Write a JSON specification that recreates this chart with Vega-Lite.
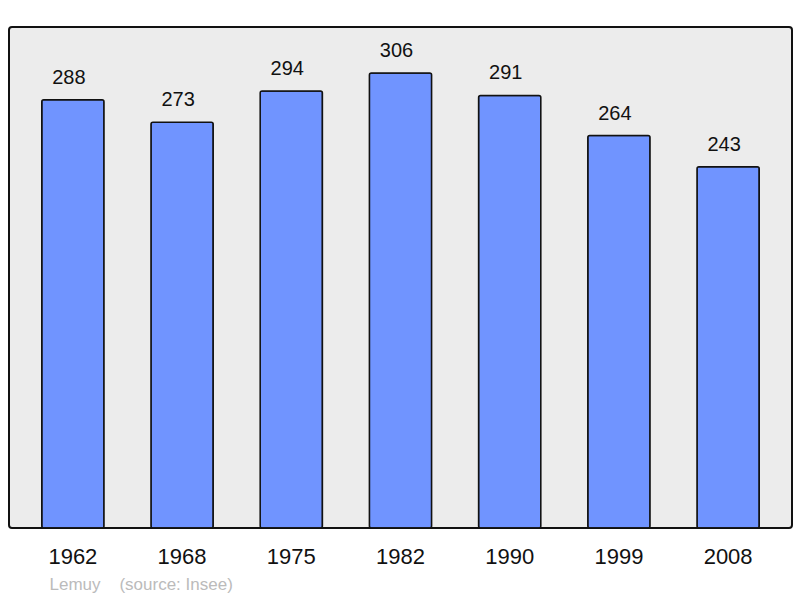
{
  "$schema": "https://vega.github.io/schema/vega-lite/v6.json",
  "width": 783,
  "height": 501,
  "autosize": {"type": "none"},
  "padding": {"left": 9, "top": 27, "right": 8, "bottom": 70},
  "background": "white",
  "config": {
    "view": {"fill": "#ececec", "stroke": "#111111", "strokeWidth": 2, "cornerRadius": 3},
    "font": "Liberation Sans"
  },
  "data": {
    "values": [
      {"year": "1962", "pop": 288},
      {"year": "1968", "pop": 273},
      {"year": "1975", "pop": 294},
      {"year": "1982", "pop": 306},
      {"year": "1990", "pop": 291},
      {"year": "1999", "pop": 264},
      {"year": "2008", "pop": 243}
    ]
  },
  "encoding": {
    "x": {
      "field": "year",
      "type": "ordinal",
      "scale": {"paddingInner": 0.43, "paddingOuter": 0.3},
      "axis": {
        "labelAngle": 0,
        "labelFontSize": 22,
        "labelColor": "#111111",
        "labelPadding": 18,
        "ticks": false,
        "domain": false,
        "title": "Lemuy\u00a0\u00a0\u00a0\u00a0(source: Insee)",
        "titleFontSize": 17,
        "titleFontWeight": "normal",
        "titleColor": "#bbbbbb",
        "titleAnchor": "start",
        "titleAlign": "left",
        "titleBaseline": "middle",
        "titleX": 40,
        "titleY": 56
      }
    },
    "y": {
      "field": "pop",
      "type": "quantitative",
      "scale": {"domain": [0, 337], "nice": false},
      "axis": null
    }
  },
  "layer": [
    {
      "mark": {"type": "bar", "fill": "#7094ff", "stroke": "#111111", "strokeWidth": 1.5, "cornerRadius": 2}
    },
    {
      "mark": {"type": "text", "dy": -22, "dx": -4, "baseline": "middle", "fontSize": 20, "color": "#111111"},
      "encoding": {"text": {"field": "pop", "type": "quantitative"}}
    }
  ]
}
